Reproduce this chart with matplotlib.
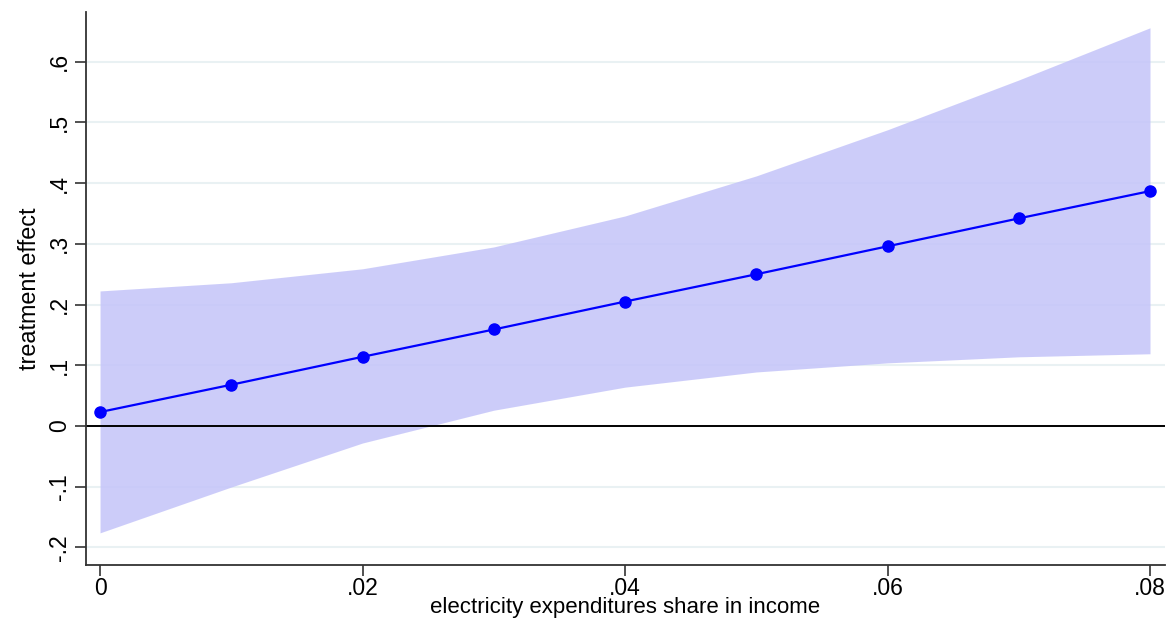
import numpy as np
import matplotlib.pyplot as plt

plt.rcParams['font.family'] = ['Liberation Sans', 'DejaVu Sans']

share = [0.0, 0.01, 0.02, 0.03, 0.04, 0.05, 0.06, 0.07, 0.08]
effect = [0.023, 0.068, 0.114, 0.159, 0.205, 0.250, 0.296, 0.342, 0.387]
upper = [0.2225, 0.236, 0.259, 0.295, 0.346, 0.412, 0.488, 0.570, 0.656]
lower = [-0.176, -0.1005, -0.028, 0.026, 0.064, 0.089, 0.104, 0.114, 0.119]

xticks = [0, 0.02, 0.04, 0.06, 0.08]
xtick_labels = ['0', '.02', '.04', '.06', '.08']
yticks = [-0.2, -0.1, 0, 0.1, 0.2, 0.3, 0.4, 0.5, 0.6]
ytick_labels = ['-.2', '-.1', '0', '.1', '.2', '.3', '.4', '.5', '.6']

fig = plt.figure(figsize=(11.7, 6.19), dpi=100)
ax = fig.add_axes([0.0735, 0.0872, 0.9222, 0.8934])

for y in yticks:
    ax.axhline(y, color='#e9f1f3', linewidth=1.5, zorder=0)

ax.fill_between(share, lower, upper, color='#c4c4f9', alpha=0.85, linewidth=0, zorder=1)
ax.axhline(0, color='black', linewidth=1.4, zorder=2)
ax.plot(share, effect, color='#0000ff', linewidth=1.6, marker='o', markersize=8, zorder=3)

ax.set_xlim(-0.00107, 0.08114)
ax.set_ylim(-0.229, 0.682)
ax.set_xticks(xticks)
ax.set_xticklabels(xtick_labels)
ax.set_yticks(yticks)
ax.set_yticklabels(ytick_labels, rotation=90, va='center')

for side in ['top', 'right']:
    ax.spines[side].set_visible(False)
for side in ['left', 'bottom']:
    ax.spines[side].set_color('#333333')
    ax.spines[side].set_linewidth(1.3)

ax.tick_params(axis='both', labelsize=16.5, length=8, width=1.2, color='#333333')
ax.tick_params(axis='x', pad=0.5)
ax.tick_params(axis='y', pad=3)
ax.set_xlabel('electricity expenditures share in income', fontsize=16)
ax.xaxis.set_label_coords(0.5, -0.057)
ax.set_ylabel('treatment effect', fontsize=16.8, labelpad=5)

plt.savefig('out.png', dpi=100)
